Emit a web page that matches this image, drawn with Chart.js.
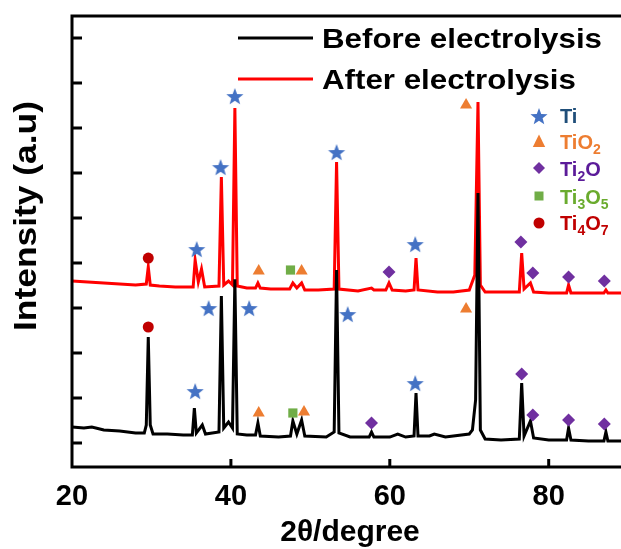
<!DOCTYPE html>
<html><head><meta charset="utf-8">
<script src="https://cdn.jsdelivr.net/npm/chart.js@4.4.1/dist/chart.umd.min.js"></script>
<style>html,body{margin:0;padding:0;background:#fff;overflow:hidden}#wrap{width:621px;height:549px;position:relative}</style>
</head><body><div id="wrap"><canvas id="c" width="621" height="549"></canvas></div>
<script>
// ---- data (2θ in degrees, intensity in arbitrary units) ----
const beforeX = [20,21.5,22.5,24,26,28,29.1,29.35,29.6,29.85,30.2,32,34,35.15,35.4,35.65,36.4,36.8,38.5,38.8,39.1,39.7,40.2,40.5,40.8,42,43.1,43.4,43.7,46,47.5,47.8,48.3,48.9,49.3,52,53.0,53.3,53.6,55,57.4,57.7,58.0,60,61,62,63.05,63.3,63.55,65,65.6,67,70,70.4,70.8,71.1,71.4,72,74,76.3,76.6,76.9,77.7,78.1,80,82.25,82.5,82.8,85,86.95,87.2,87.45,89.1];
const beforeY = [356,333,356,289,267,222,222,400,2356,400,200,200,178,178,778,222,400,200,244,3267,333,467,333,3640,200,178,178,444,156,133,156,489,200,511,156,133,244,3844,222,133,133,244,133,133,200,133,156,1111,156,156,200,133,200,289,956,5556,289,89,67,89,1333,156,489,111,67,67,333,67,44,44,244,44,44];
const afterX = [20,22,24,26,28,29.35,29.6,29.85,31,33,35.25,35.5,35.9,36.3,36.7,38.5,38.8,39.1,39.7,40.2,40.5,40.8,42,43.1,43.4,43.7,45,47.4,47.8,48.3,48.9,49.3,51,53.0,53.3,53.6,56,57.7,58,59.5,59.9,60.3,62,63.05,63.3,63.55,66,68,70,70.7,71.1,71.4,72,74,76.3,76.6,76.9,77.7,78.1,80,82.25,82.5,82.8,85,86.95,87.2,87.45,89.1];
const afterY = [3600,3578,3556,3533,3511,3533,3911,3511,3489,3467,3467,4067,3578,3867,3467,3489,5911,3511,3600,3511,7444,3489,3444,3444,3556,3444,3422,3422,3556,3444,3556,3400,3400,3422,6244,3422,3378,3444,3400,3400,3556,3400,3378,3400,4111,3400,3356,3356,3400,3733,7578,3511,3356,3356,3356,4222,3422,3556,3356,3333,3333,3511,3333,3333,3333,3400,3333,3333];
// phase markers (before curve then after curve)
const tiX   = [35.5,37.2,42.3,54.7,63.2, 35.7,38.7,40.5,53.3,63.2];
const tiY   = [1133,2978,2978,2844,1311, 4289,6111,7689,6444,4400];
const tio2X = [43.5,49.2,69.6, 43.5,48.9,69.6];
const tio2Y = [667,689,2978, 3822,3822,7511];
const ti2oX = [57.7,76.6,78.0,82.5,87.0, 59.9,76.5,78.0,82.5,87.0];
const ti2oY = [444,1533,622,511,422, 3800,4467,3778,3689,3600];
const ti3o5X = [47.8, 47.5];
const ti3o5Y = [667, 3844];
const ti4o7X = [29.6, 29.6];
const ti4o7Y = [2578, 4111];
const xTickValues = [20,40,60,80];
const yTickValues = [0,1000,2000,3000,4000,5000,6000,7000,8000,9000];
const seriesNames = ['Before electrolysis','After electrolysis'];
const phaseNames = [['Ti',''],['TiO','2'],['Ti','2','O'],['Ti','3','O','5'],['Ti','4','O','7']];

const FONT = "'Liberation Sans', Arial, sans-serif";
Chart.defaults.font.family = FONT;

function pts(xs, ys){ return xs.map((v,i)=>({x:v, y:ys[i]})); }
function makeStar(r, color){
  const s = Math.ceil(r*2+2); const c = document.createElement('canvas'); c.width=s; c.height=s;
  const g = c.getContext('2d'); g.fillStyle=color; g.beginPath();
  for(let i=0;i<10;i++){ const rr = i%2 ? r*0.42 : r; const a=-Math.PI/2+i*Math.PI/5; g.lineTo(s/2+rr*Math.cos(a), s/2+rr*Math.sin(a)); }
  g.closePath(); g.fill(); return c;
}
const COL = {ti:'#4472C4', tio2:'#ED7D31', ti2o:'#7030A0', ti3o5:'#70AD47', ti4o7:'#C00000'};
const TXT = ['#1F4E79','#ED7D31','#5B1B99','#6AAB2E','#C00000'];
const star = makeStar(9, COL.ti);
const starLeg = makeStar(9, COL.ti);

function mk(label, xs, ys, style, color, r){
  return {label, type:'scatter', data:pts(xs,ys), pointStyle:style, pointRadius:r, pointHoverRadius:r,
    backgroundColor:color, borderColor:color, borderWidth:0, showLine:false, order:0, clip:false};
}

const decor = {
  id:'decor',
  afterDatasetsDraw(chart){
    const {ctx, chartArea:a, scales:{x, y}} = chart;
    ctx.save();
    ctx.strokeStyle='#000'; ctx.lineWidth=3; ctx.lineCap='butt';
    ctx.beginPath();
    ctx.moveTo(a.left-1.5, a.top); ctx.lineTo(a.right, a.top);
    ctx.moveTo(a.left, a.top-1.5); ctx.lineTo(a.left, a.bottom+1.5);
    ctx.moveTo(a.left-1.5, a.bottom); ctx.lineTo(a.right, a.bottom);
    y.ticks.forEach(t=>{ const py=y.getPixelForValue(t.value); ctx.moveTo(a.left, py); ctx.lineTo(a.left+10, py); });
    x.ticks.forEach(t=>{ const px=x.getPixelForValue(t.value); if(px>a.left+2){ ctx.moveTo(px, a.bottom); ctx.lineTo(px, a.bottom-8);} });
    ctx.stroke();
    ctx.restore();
  },
  afterDraw(chart){
    const ctx = chart.ctx;
    ctx.save();
    ctx.fillStyle='#000';
    // axis titles
    ctx.font = "bold 30px "+FONT; ctx.textAlign='center'; ctx.textBaseline='alphabetic';
    ctx.fillText('2θ/degree', 350, 541);
    ctx.save(); ctx.translate(36, 216); ctx.rotate(-Math.PI/2);
    ctx.font = "bold 32px "+FONT;
    const ys = 230/ctx.measureText('Intensity (a.u)').width;
    ctx.scale(ys,1);
    ctx.fillText('Intensity (a.u)', 0, 0); ctx.restore();
    // series legend
    const lc = ['#000000','#FF0000']; const ly=[38,79]; const lb=[48,89];
    ctx.font="bold 28px "+FONT; ctx.textAlign='left';
    const sx = 280/ctx.measureText(seriesNames[0]).width;
    for(let i=0;i<2;i++){
      ctx.strokeStyle=lc[i]; ctx.lineWidth=3; ctx.beginPath(); ctx.moveTo(238,ly[i]); ctx.lineTo(313,ly[i]); ctx.stroke();
      ctx.fillStyle='#000';
      ctx.save(); ctx.translate(322, lb[i]); ctx.scale(sx,1); ctx.fillText(seriesNames[i], 0, 0); ctx.restore();
    }
    // phase legend
    const my=[117,142,168,196,223]; const tb=[123,149,176,204,230];
    const mx=539;
    ctx.drawImage(starLeg, mx-starLeg.width/2, my[0]-starLeg.height/2);
    ctx.fillStyle=COL.tio2; ctx.beginPath(); ctx.moveTo(mx,my[1]-7.5); ctx.lineTo(mx+6.2,my[1]+5); ctx.lineTo(mx-6.2,my[1]+5); ctx.closePath(); ctx.fill();
    ctx.fillStyle=COL.ti2o; ctx.beginPath(); ctx.moveTo(mx,my[2]-6); ctx.lineTo(mx+6,my[2]); ctx.lineTo(mx,my[2]+6); ctx.lineTo(mx-6,my[2]); ctx.closePath(); ctx.fill();
    ctx.fillStyle=COL.ti3o5; ctx.fillRect(mx-4.5,my[3]-4.5,9,9);
    ctx.fillStyle=COL.ti4o7; ctx.beginPath(); ctx.arc(mx,my[4],5.5,0,Math.PI*2); ctx.fill();
    for(let i=0;i<5;i++){
      let px=560; ctx.fillStyle=TXT[i];
      phaseNames[i].forEach((part,k)=>{
        if(!part) return;
        const sub = k%2===1;
        ctx.font = sub ? "bold 14px "+FONT : "bold 20px "+FONT;
        ctx.fillText(part, px, tb[i] + (sub?5:0));
        px += ctx.measureText(part).width;
      });
    }
    ctx.restore();
  }
};

new Chart(document.getElementById('c'), {
  type:'scatter',
  data:{ datasets:[
    mk('Ti', tiX, tiY, star, COL.ti, 9),
    mk('TiO2', tio2X, tio2Y, 'triangle', COL.tio2, 7),
    mk('Ti2O', ti2oX, ti2oY, 'rectRot', COL.ti2o, 6.5),
    mk('Ti3O5', ti3o5X, ti3o5Y, 'rect', COL.ti3o5, 6.5),
    mk('Ti4O7', ti4o7X, ti4o7Y, 'circle', COL.ti4o7, 5.5),
    {label:seriesNames[0], data:pts(beforeX,beforeY), showLine:true, borderColor:'#000', borderWidth:3, pointRadius:0, tension:0, order:1},
    {label:seriesNames[1], data:pts(afterX,afterY), showLine:true, borderColor:'#FF0000', borderWidth:3, pointRadius:0, tension:0, order:2}
  ]},
  options:{
    responsive:false, animation:false, devicePixelRatio:1,
    layout:{autoPadding:false, padding:{top:16,right:0,bottom:0,left:0}},
    plugins:{legend:{display:false}, tooltip:{enabled:false}},
    scales:{
      x:{type:'linear', min:20, max:89.1,
        grid:{display:false}, border:{display:false},
        ticks:{font:{size:29, weight:'bold'}, color:'#000', padding:5, maxRotation:0, autoSkip:false},
        afterBuildTicks:(s)=>{ s.ticks = xTickValues.map(v=>({value:v})); },
        afterFit:(s)=>{ s.height = 82; s.paddingLeft = 0; s.paddingRight = 0; }
      },
      y:{type:'linear', min:-533, max:9489,
        grid:{display:false}, border:{display:false},
        ticks:{display:false},
        afterBuildTicks:(s)=>{ s.ticks = yTickValues.map(v=>({value:v})); },
        afterFit:(s)=>{ s.width = 72; s.paddingTop = 0; s.paddingBottom = 0; }
      }
    }
  },
  plugins:[decor]
});
</script>
</body></html>
